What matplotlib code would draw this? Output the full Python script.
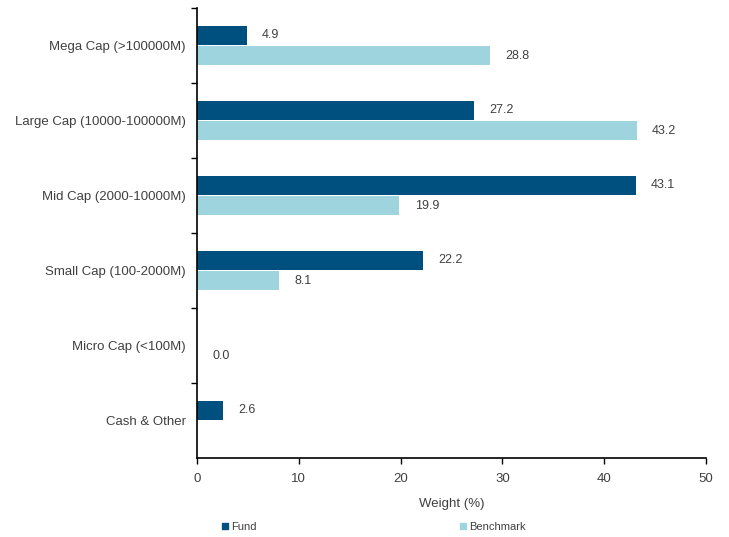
import numpy as np
import matplotlib.pyplot as plt
from matplotlib.lines import Line2D

categories = ["Mega Cap (>100000M)", "Large Cap (10000-100000M)", "Mid Cap (2000-10000M)",
              "Small Cap (100-2000M)", "Micro Cap (<100M)", "Cash & Other"]
fund = [4.9, 27.2, 43.1, 22.2, np.nan, 2.6]
benchmark = [28.8, 43.2, 19.9, 8.1, 0.0, np.nan]

fund_color = "#00507f"
bench_color = "#9dd4dd"
text_color = "#404040"

plt.rcParams['font.family'] = ['Liberation Sans', 'DejaVu Sans']

fig = plt.figure(figsize=(7.29, 5.37), dpi=100)
ax = fig.add_axes([0.270, 0.147, 0.6985, 0.838])

y = np.arange(len(categories))
h = 0.25
ax.barh(y - 0.135, fund, height=h, color=fund_color)
ax.barh(y + 0.135, benchmark, height=h, color=bench_color)

# value labels, skip missing values
for yi, v in zip(y - 0.135, fund):
    if not np.isnan(v):
        ax.text(v + 1.5, yi, f"{v:.1f}", va="center", ha="left", fontsize=9, color=text_color)
for yi, v in zip(y + 0.135, benchmark):
    if not np.isnan(v):
        ax.text(v + 1.5, yi, f"{v:.1f}", va="center", ha="left", fontsize=9, color=text_color)

ax.set_xlim(0, 50)
ax.set_ylim(len(categories) - 0.5, -0.5)
ax.set_xticks(range(0, 51, 10))
ax.set_yticks(y)
ax.set_yticklabels(categories)
ax.set_yticks(np.arange(len(categories)) - 0.5, minor=True)
ax.tick_params(axis="y", which="major", length=0, pad=8, labelsize=9.5, labelcolor=text_color)
ax.tick_params(axis="y", which="minor", length=4, width=1, direction="out")
ax.tick_params(axis="x", length=4, width=1, direction="out", pad=7, labelsize=9.5, labelcolor=text_color)

for s in ["top", "right"]:
    ax.spines[s].set_visible(False)
for s in ["left", "bottom"]:
    ax.spines[s].set_linewidth(1.2)
    ax.spines[s].set_color("black")

ax.set_xlabel("Weight (%)", fontsize=9.5, color=text_color, labelpad=9)

handles = [Line2D([], [], marker="s", linestyle="none", markersize=4, color=fund_color),
           Line2D([], [], marker="s", linestyle="none", markersize=4, color=bench_color)]
fig.legend(handles, ["Fund", "Benchmark"], loc="center left", bbox_to_anchor=(0.287, 0.018),
           ncol=2, frameon=False, fontsize=8, handletextpad=0.1, columnspacing=18,
           labelcolor=text_color, handlelength=1)

fig.savefig("out.png", dpi=100)
